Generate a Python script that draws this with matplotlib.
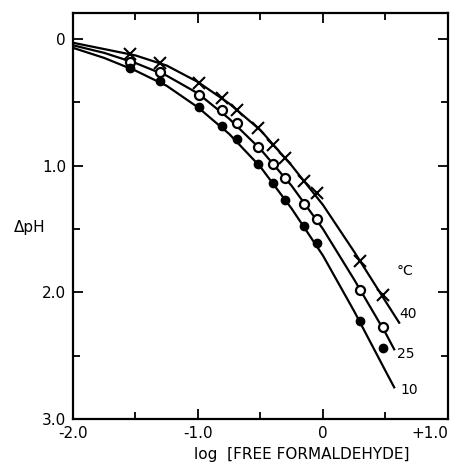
import matplotlib
matplotlib.use("Agg")
from matplotlib import pyplot as plt

# measured points (same log[HCHO] values for all three temperatures)
log_hcho = [-1.54, -1.30, -0.99, -0.81, -0.69, -0.52, -0.40, -0.30, -0.15, -0.05, 0.30, 0.48]
dph_40 = [0.12, 0.19, 0.35, 0.47, 0.56, 0.70, 0.84, 0.94, 1.12, 1.22, 1.75, 2.02]
dph_25 = [0.18, 0.26, 0.44, 0.56, 0.66, 0.85, 0.99, 1.10, 1.30, 1.42, 1.98, 2.27]
dph_10 = [0.23, 0.33, 0.54, 0.69, 0.79, 0.99, 1.14, 1.27, 1.48, 1.61, 2.23, 2.44]

# drawn curves
curve_x = [-2.0, -1.75, -1.5, -1.25, -1.0, -0.75, -0.5, -0.25, 0.0, 0.25, 0.5]
curve_40 = [0.03, 0.08, 0.13, 0.21, 0.34, 0.51, 0.72, 1.00, 1.31, 1.68, 2.07]
curve_25 = [0.05, 0.11, 0.19, 0.29, 0.43, 0.63, 0.87, 1.16, 1.50, 1.90, 2.32]
curve_10 = [0.07, 0.15, 0.25, 0.37, 0.54, 0.75, 1.01, 1.34, 1.71, 2.15, 2.62]
end_x = {"40": 0.61, "25": 0.57, "10": 0.57}
end_y = {"40": 2.24, "25": 2.45, "10": 2.75}

xticks = [-2.0, -1.0, 0.0, 1.0]
xticklabels = ["-2.0", "-1.0", "0", "+1.0"]
yticks = [0.0, 1.0, 2.0, 3.0]
yticklabels = ["0", "1.0", "2.0", "3.0"]

fig = plt.figure(figsize=(4.52, 4.62), dpi=100)
ax = fig.add_axes([0.1615, 0.0931, 0.8295, 0.8788])

lw = 1.6
for ys, key in [(curve_40, "40"), (curve_25, "25"), (curve_10, "10")]:
    ax.plot(curve_x + [end_x[key]], ys + [end_y[key]], color="black", lw=lw,
            solid_joinstyle="round")

ax.plot(log_hcho, dph_40, "x", color="black", ms=8.5, mew=1.5)
ax.plot(log_hcho, dph_25, "o", mfc="white", mec="black", ms=6.5, mew=1.6)
ax.plot(log_hcho, dph_10, "o", color="black", ms=6)

ax.text(0.592, 1.83, "°C", fontsize=10, ha="left", va="center")
ax.text(0.608, 2.17, "40", fontsize=10, ha="left", va="center")
ax.text(0.592, 2.49, "25", fontsize=10, ha="left", va="center")
ax.text(0.616, 2.77, "10", fontsize=10, ha="left", va="center")

ax.set_xlim(-2.0, 1.0)
ax.set_ylim(3.0, -0.205)
ax.set_xticks(xticks)
ax.set_xticklabels(xticklabels, fontsize=11)
ax.set_xticks([-1.5, -0.5, 0.5], minor=True)
ax.set_yticks(yticks)
ax.set_yticklabels(yticklabels, fontsize=11)
ax.set_yticks([0.5, 1.5, 2.5], minor=True)
ax.tick_params(which="both", direction="in", top=True, right=True, width=1.3)
ax.tick_params(which="major", length=7, pad=5)
ax.tick_params(which="minor", length=5)
for s in ax.spines.values():
    s.set_linewidth(1.6)
# keep "+1.0" inside the figure
ax.get_xticklabels()[-1].set_horizontalalignment("right")

fig.text(30 / 452, 1 - 227 / 462, "ΔpH", fontsize=11, ha="center", va="center")
fig.text(302 / 452, 1 - 455 / 462, "log  [FREE FORMALDEHYDE]", fontsize=11,
         ha="center", va="center")

fig.savefig("out.png", dpi=100)
